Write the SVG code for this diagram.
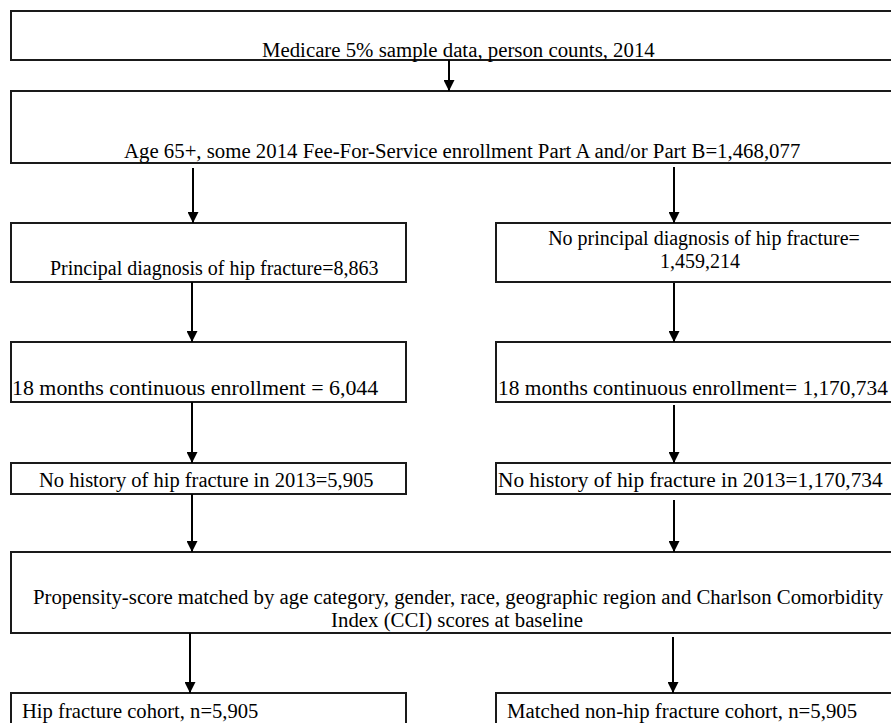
<svg xmlns="http://www.w3.org/2000/svg" width="891" height="723" viewBox="0 0 891 723">
<style>
.box{fill:#fff;stroke:#1a1a1a;stroke-width:2}
.t{font-family:"Liberation Serif","Times New Roman",serif;font-size:20.8px;fill:#000}
.c{text-anchor:middle}
.conn line{stroke:#000;stroke-width:2;marker-end:url(#ah)}
</style>
<defs>
<marker id="ah" markerUnits="userSpaceOnUse" markerWidth="11" markerHeight="11" refX="10" refY="5" orient="auto" viewBox="0 0 10 10">
<path d="M0,0 L10,5 L0,10 z" fill="#000"/>
</marker>
</defs>
<rect width="891" height="723" fill="#fff"/>
<g id="n1"><rect class="box" x="11" y="11" width="900" height="49"/><text class="t" x="262" y="57">Medicare 5% sample data, person counts, 2014</text></g>
<g id="n2"><rect class="box" x="11" y="91" width="900" height="72"/><text class="t" x="124" y="158">Age 65+, some 2014 Fee-For-Service enrollment Part A and/or Part B=1,468,077</text></g>
<g id="n3l"><rect class="box" x="11" y="223" width="395" height="59"/><text class="t" x="50" y="275" style="font-size:20px">Principal diagnosis of hip fracture=8,863</text></g>
<g id="n3r"><rect class="box" x="496" y="223" width="415" height="59"/><text class="t c" x="704" y="245" style="font-size:20px">No principal diagnosis of hip fracture=</text><text class="t c" x="700" y="268" style="font-size:20px">1,459,214</text></g>
<g id="n4l"><rect class="box" x="11" y="342" width="395" height="60"/><text class="t" x="12" y="395" style="font-size:21.9px">18 months continuous enrollment = 6,044</text></g>
<g id="n4r"><rect class="box" x="496" y="342" width="415" height="60"/><text class="t" x="498" y="395" style="font-size:21.4px">18 months continuous enrollment= 1,170,734</text></g>
<g id="n5l"><rect class="box" x="11" y="463" width="395" height="31"/><text class="t" x="39" y="487" style="font-size:20.5px">No history of hip fracture in 2013=5,905</text></g>
<g id="n5r"><rect class="box" x="496" y="463" width="415" height="31"/><text class="t" x="498" y="487" style="font-size:21.3px">No history of hip fracture in 2013=1,170,734</text></g>
<g id="n6"><rect class="box" x="11" y="552" width="900" height="81"/><text class="t c" x="458" y="604">Propensity-score matched by age category, gender, race, geographic region and Charlson Comorbidity</text><text class="t c" x="457" y="627">Index (CCI) scores at baseline</text></g>
<g id="n7l"><rect class="box" x="11" y="693" width="395" height="60"/><text class="t" x="22" y="718" style="font-size:20.6px">Hip fracture cohort, n=5,905</text></g>
<g id="n7r"><rect class="box" x="496" y="693" width="415" height="60"/><text class="t" x="507" y="718">Matched non-hip fracture cohort, n=5,905</text></g>
<g id="connectors" class="conn">
<line x1="449" y1="60" x2="449" y2="91"/>
<line x1="193" y1="168" x2="193" y2="223"/>
<line x1="674" y1="167" x2="674" y2="223"/>
<line x1="192" y1="282" x2="192" y2="342"/>
<line x1="674" y1="283" x2="674" y2="342"/>
<line x1="192" y1="402" x2="192" y2="463"/>
<line x1="674" y1="405" x2="674" y2="463"/>
<line x1="192" y1="494" x2="192" y2="552"/>
<line x1="674" y1="500" x2="674" y2="552"/>
<line x1="190" y1="633" x2="190" y2="693"/>
<line x1="673" y1="637" x2="673" y2="693"/>
</g>
</svg>
